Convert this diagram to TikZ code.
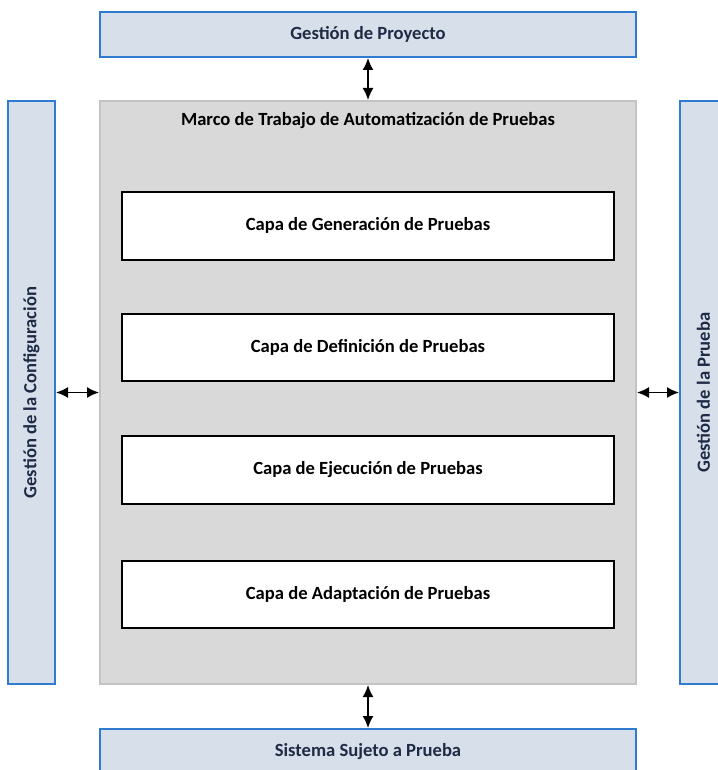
\documentclass[tikz,border=0pt]{standalone}
\usepackage{fontspec}
\setmainfont{Carlito}
\usetikzlibrary{positioning,arrows,arrows.meta}
\definecolor{boxblue}{HTML}{2E7BCF}
\definecolor{boxfill}{HTML}{D6DFEA}
\definecolor{framegray}{HTML}{D9D9D9}
\definecolor{frameline}{HTML}{C3C3C3}
\definecolor{navytext}{HTML}{1F2A44}
\tikzstyle{arrow} = [line width=1.6pt,<->,>={Latex[length=12pt,width=11pt]}]

\begin{document}
\begin{tikzpicture}[x=1pt,y=1pt]
\tikzset{%
	mgmt/.style = { rectangle, draw=boxblue, fill=boxfill, line width=2pt, text=navytext, font=\bfseries\fontsize{18.6}{22}\selectfont, text centered },
	wide/.style = { mgmt, minimum width=536pt, minimum height=45pt },
	tall/.style = { mgmt, minimum width=47pt, minimum height=583pt },
	framework/.style = { rectangle, draw=frameline, fill=framegray, line width=2pt, minimum width=536pt, minimum height=583pt },
	testlayer/.style = { rectangle, draw=black, fill=white, line width=2pt, minimum width=492pt, minimum height=67.5pt, font=\bfseries\fontsize{18.6}{22}\selectfont, text centered }
}
\useasboundingbox (0,0) rectangle (717,-770);

\node(Framework)		[framework] at (368,-392.5) {};
\node(FrameTitle)		[below=9pt of Framework.north, font=\bfseries\fontsize{18.6}{22}\selectfont]
								{Marco de Trabajo de Automatización de Pruebas};

\node(GenLayer)		[testlayer, below=91pt of Framework.north]
								{Capa de Generación de Pruebas};
\node(DefLayer)		[testlayer, below=52pt of GenLayer.south]
								{Capa de Definición de Pruebas};
\node(ExecLayer)		[testlayer, below=53pt of DefLayer.south]
								{Capa de Ejecución de Pruebas};
\node(AdaptLayer)		[testlayer, below=55pt of ExecLayer.south]
								{Capa de Adaptación de Pruebas};

\node(ProjectMgmt)	[wide, above=42pt of Framework.north]
								{Gestión de Proyecto};
\node(SUT)				[wide, below=43pt of Framework.south]
								{Sistema Sujeto a Prueba};
\node(ConfigMgmt)		[tall, left=43pt of Framework.west]
								{\rotatebox{90}{Gestión de la Configuración}};
\node(TestMgmt)		[tall, right=42pt of Framework.east]
								{\rotatebox{90}{Gestión de la Prueba}};

\draw [arrow]	(ProjectMgmt) -- (Framework);
\draw [arrow]	(Framework) -- (SUT);
\draw [arrow]	(ConfigMgmt) -- (Framework);
\draw [arrow]	(Framework) -- (TestMgmt);

\end{tikzpicture}
\end{document}
